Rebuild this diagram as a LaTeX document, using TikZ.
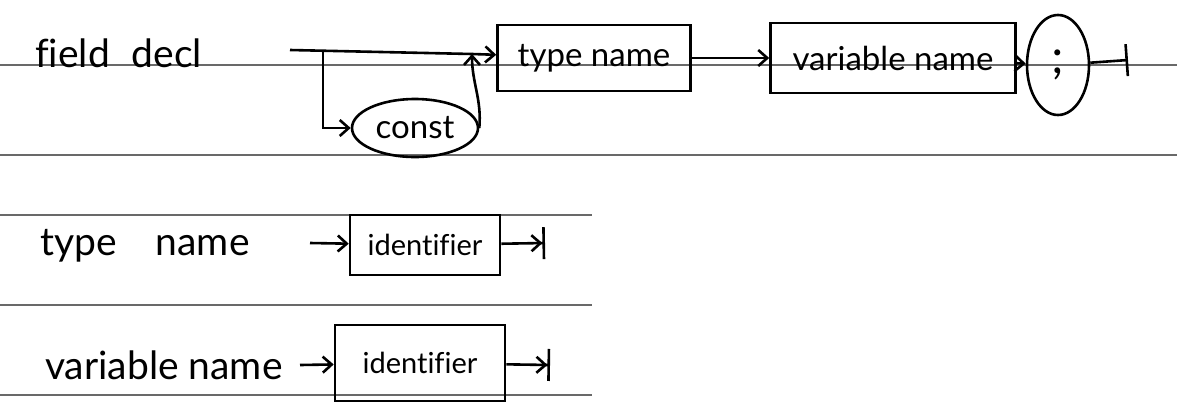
\documentclass[tikz,border=0pt]{standalone}
\usepackage{fontspec}
\setmainfont{Lato}[Ligatures=NoCommon]
\usetikzlibrary{arrows.meta,positioning,shapes.geometric}
\definecolor{ruleline}{RGB}{105,105,105}
\tikzset{
  rule/.style={draw=ruleline, line width=1.6pt},
  rname/.style={anchor=base west, inner sep=0pt, font=\fontsize{39}{43}\selectfont},
  ntbox/.style={draw, rectangle, line width=2.6pt, align=center,
               font=\fontsize{33}{37}\selectfont},
  tbox/.style={draw, ellipse, line width=2.6pt, inner sep=2pt,
               font=\fontsize{33}{37}\selectfont},
  flow/.style={-{Straight Barb[length=9pt,width=16pt]}, line width=2.6pt},
  flowend/.style={-{Straight Barb[length=9pt,width=16pt] Bar[width=32pt]}, line width=2.6pt},
  flowstop/.style={-{Bar[width=32pt]}, line width=2.6pt},
}
\begin{document}
\begin{tikzpicture}[x=1pt,y=-1pt]
    \useasboundingbox (0,0) rectangle (1177,413);
    % ruled lines
    \draw[rule] (0,65) -- (1177,65);
    \draw[rule] (0,155) -- (1177,155);
    \draw[rule] (0,215) -- (592,215);
    \draw[rule] (0,305) -- (592,305);
    \draw[rule] (0,395) -- (592,395);

    % field decl
    \node[rname] (fdecl) at (35,67) {field\hspace{0.3em} decl};
    \coordinate (fstart) at (290,50);
    \coordinate (fsplit) at (323,51);
    \coordinate (fjoin) at (472,54);
    \node[ntbox, minimum width=193pt, minimum height=66pt] (ftype) at (594,58) {type name};
    \node[ntbox, minimum width=245pt, minimum height=70pt] (fvar) at (893,58) {variable name};
    \node[tbox, minimum width=62pt, minimum height=100pt, font=\fontsize{48}{50}\selectfont] (fsemi) at (1058,65) {;};
    \node[tbox, minimum width=126pt, minimum height=58pt] (fconst) at (415,128) {const};
    \coordinate (fend) at (1128,60);
    \draw[line width=2.6pt] (fstart) -- (fjoin);
    \draw[flow] (fjoin) -- (ftype);
    \draw[flow] (fsplit) |- (fconst);
    \draw[flow] (fconst.east) to[out=85,in=-90] (fjoin);
    \draw[flow] (ftype) -- (fvar);
    \draw[flow] (fvar) -- (fsemi);
    \draw[flowstop] (fsemi) -- (fend);

    % type name
    \node[rname] (tname) at (40,255) {type\hspace{1em}name};
    \coordinate (tstart) at (310,243);
    \node[ntbox, minimum width=150pt, minimum height=60pt, font=\fontsize{29}{32}\selectfont] (tid) at (425,245) {identifier};
    \coordinate (tend) at (545,243);
    \draw[flow] (tstart) -- (tid);
    \draw[flowend] (tid) -- (tend);

    % variable name
    \node[rname] (vname) at (45,379) {variable name};
    \coordinate (vstart) at (300,365);
    \node[ntbox, minimum width=170pt, minimum height=76pt, font=\fontsize{29}{32}\selectfont] (vid) at (420,363) {identifier};
    \coordinate (vend) at (550,365);
    \draw[flow] (vstart) -- (vid);
    \draw[flowend] (vid) -- (vend);
\end{tikzpicture}
\end{document}
